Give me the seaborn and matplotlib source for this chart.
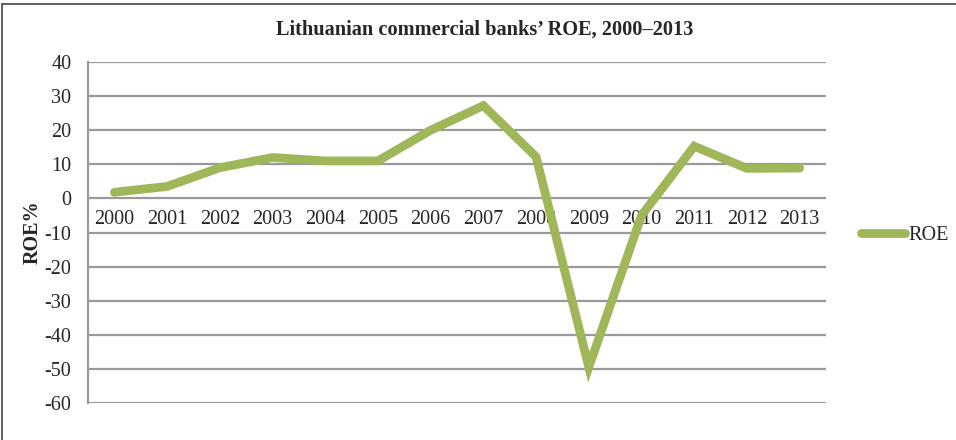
import matplotlib
matplotlib.use("Agg")
import matplotlib.pyplot as plt
import seaborn as sns
import pandas as pd
from matplotlib.lines import Line2D

years = ["2000", "2001", "2002", "2003", "2004", "2005", "2006",
         "2007", "2008", "2009", "2010", "2011", "2012", "2013"]
roe = [1.8, 3.5, 9.0, 12.0, 11.0, 11.0, 20.0,
       27.2, 12.2, -49.5, -5.0, 15.3, 8.8, 8.9]
y_ticks = [40, 30, 20, 10, 0, -10, -20, -30, -40, -50, -60]

sns.set_theme(style="white")
plt.rcParams["font.family"] = ["Liberation Serif", "DejaVu Serif"]

df = pd.DataFrame({"Year": years, "ROE": roe})
green = "#9FB758"
grid_c = "#9a9a9a"
fs = 14.5

fig = plt.figure(figsize=(9.56, 4.4), dpi=100)
ax = fig.add_axes([88 / 956, 1 - 403 / 440, (826 - 88) / 956, (403 - 62) / 440])

for v in y_ticks:
    ax.axhline(v, color=grid_c, lw=1.6, zorder=1)

sns.lineplot(data=df, x="Year", y="ROE", ax=ax, color=green, lw=6.3,
             sort=False, zorder=3, legend=False)
ax.lines[-1].set_solid_joinstyle("miter")

ax.set_xlim(-0.5, len(years) - 0.5)
ax.set_ylim(-60, 40)
ax.set_yticks(y_ticks)
ax.set_yticklabels([str(v) for v in y_ticks], fontsize=fs)
ax.tick_params(axis="y", length=0, pad=12)
ax.set_xticks([])
ax.set_xlabel("")
ax.set_ylabel("ROE%", fontsize=fs, fontweight="bold", labelpad=1)

for s in ["top", "right", "bottom"]:
    ax.spines[s].set_visible(False)
ax.spines["left"].set_color(grid_c)
ax.spines["left"].set_linewidth(1.6)

# Category labels sit just under the zero line
for i, yr in enumerate(years):
    ax.annotate(yr, xy=(i, 0), xytext=(0, -15.5), textcoords="offset points",
                ha="center", va="center", fontsize=fs, zorder=2)

handle = Line2D([], [], color=green, lw=6.3, solid_capstyle="round")
ax.legend([handle], ["ROE"], loc="center left", bbox_to_anchor=(1.047, 0.49),
          frameon=False, fontsize=fs, handlelength=2.2, handletextpad=0.15,
          borderpad=0, borderaxespad=0)

fig.text(485 / 956, 1 - 30 / 440, "Lithuanian commercial banks\u2019 ROE, 2000\u20132013",
         ha="center", va="center", fontsize=14.7, fontweight="bold")

# Outer chart frame (top and left edges)
fig.add_artist(Line2D([2 / 956, 1], [1 - 4 / 440, 1 - 4 / 440],
                      transform=fig.transFigure, color="#444444", lw=1.2))
fig.add_artist(Line2D([2 / 956, 2 / 956], [0, 1 - 4 / 440],
                      transform=fig.transFigure, color="#444444", lw=1.2))

fig.savefig("out.png", dpi=100)
